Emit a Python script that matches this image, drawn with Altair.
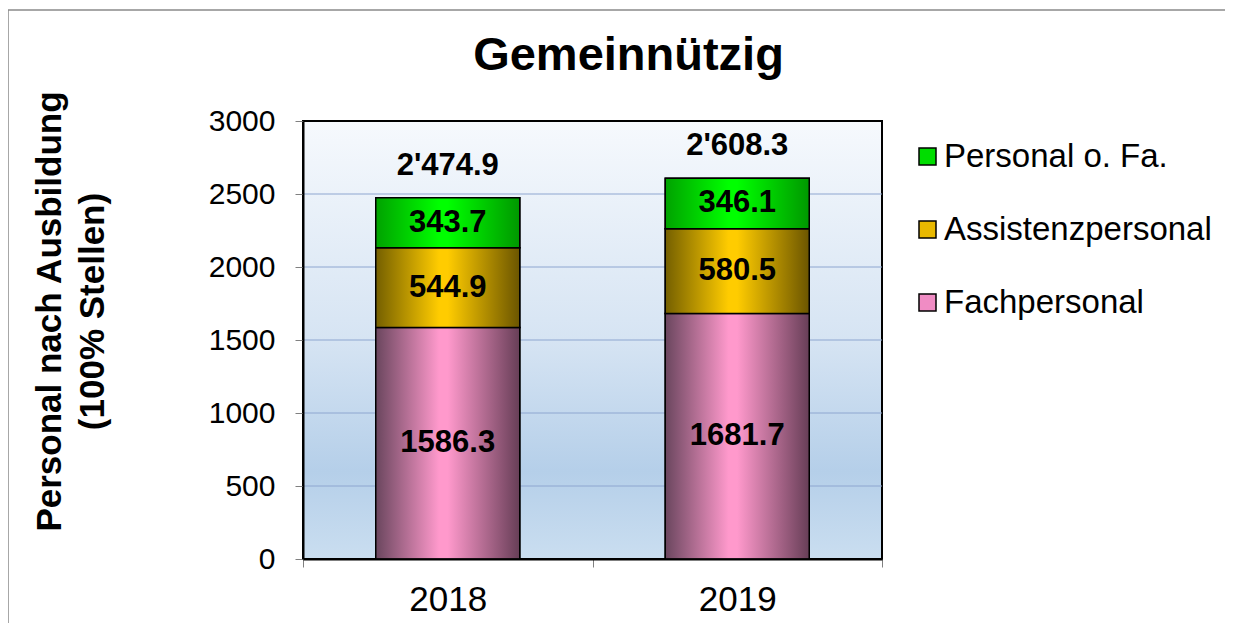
import altair as alt
import pandas as pd

# ---- data ----
years = ["2018", "2019"]
series = ["Fachpersonal", "Assistenzpersonal", "Personal o. Fa."]
fachpersonal = [1586.3, 1681.7]
assistenzpersonal = [544.9, 580.5]
personal_ohne = [343.7, 346.1]
y_ticks = [0, 500, 1000, 1500, 2000, 2500, 3000]
legend_order = ["Personal o. Fa.", "Assistenzpersonal", "Fachpersonal"]
legend_colors = ["#00dd00", "#e8b800", "#f08cc4"]

rows = []
for i, y in enumerate(years):
    for k, (s, vals) in enumerate(zip(series, [fachpersonal, assistenzpersonal, personal_ohne])):
        rows.append({"year": y, "series": s, "value": vals[i], "order": k})
df = pd.DataFrame(rows)
grid_df = pd.DataFrame({"tick": [t for t in y_ticks if 0 < t < max(y_ticks)]})

FONT = "Liberation Sans"


def hgrad(dark_l, bright, dark_r):
    return alt.LinearGradient(
        gradient="linear", x1=0, x2=1, y1=0, y2=0,
        stops=[alt.GradientStop(color=dark_l, offset=0),
               alt.GradientStop(color=bright, offset=0.44),
               alt.GradientStop(color=bright, offset=0.5),
               alt.GradientStop(color=dark_r, offset=1)])


grads = {
    "Fachpersonal": hgrad("#6a465e", "#ff99cc", "#673e57"),
    "Assistenzpersonal": hgrad("#745f00", "#ffcc00", "#6b5500"),
    "Personal o. Fa.": hgrad("#00a200", "#00ff00", "#009800"),
}

bg_grad = alt.LinearGradient(
    gradient="linear", x1=0, x2=0, y1=0, y2=1,
    stops=[alt.GradientStop(color="#f6f9fd", offset=0),
           alt.GradientStop(color="#d6e4f3", offset=0.5),
           alt.GradientStop(color="#b5cfe9", offset=0.8),
           alt.GradientStop(color="#cadef0", offset=1)])

x_axis = alt.Axis(title=None, labelAngle=0, labelFontSize=35, labelFont=FONT,
                  labelColor="black", tickBand="extent", tickSize=8,
                  tickColor="#808080", tickWidth=1, domainColor="black",
                  domainWidth=2, labelPadding=15, zindex=1, grid=False)
x_scale = alt.Scale(paddingInner=0, paddingOuter=0, domain=years)
y_axis = alt.Axis(title=["Personal nach Ausbildung", "(100% Stellen)"],
                  values=y_ticks, format="d", grid=False, tickSize=8,
                  tickColor="#808080", tickWidth=1, labelFontSize=30,
                  labelFont=FONT, labelColor="black", labelPadding=20,
                  domainColor="black", domainWidth=2, zindex=1,
                  titleFontSize=35, titleFont=FONT, titleFontWeight="bold",
                  titleColor="black", titleX=-254, titleY=190,
                  titleBaseline="middle", titleAlign="center",
                  titleAngle=270, titleLineHeight=43)
y_scale = alt.Scale(domain=[0, 3000], nice=False)

stacked = alt.Chart(df).transform_stack(
    stack="value", groupby=["year"], as_=["y0", "y1"],
    sort=[alt.SortField("order", order="ascending")])

one = alt.Data(values=[{}])

bg = alt.Chart(one).mark_rect(fill=bg_grad, stroke="black", strokeWidth=2).encode(
    x=alt.value(0), x2=alt.value("width"), y=alt.value(0), y2=alt.value("height"))

grid = alt.Chart(grid_df).mark_rule(color="#8ea6d0", strokeWidth=1).encode(
    y=alt.Y("tick:Q", scale=y_scale, axis=y_axis),
    x=alt.value(0), x2=alt.value("width"))

base_bars = stacked.mark_bar(width=144, stroke="black", strokeWidth=1.5).encode(
    x=alt.X("year:N", scale=x_scale, axis=x_axis),
    y=alt.Y("y0:Q", scale=y_scale, axis=y_axis),
    y2="y1:Q",
    color=alt.Color("series:N",
                    scale=alt.Scale(domain=legend_order, range=legend_colors),
                    legend=alt.Legend(title=None, orient="none", legendX=608,
                                      legendY=19, symbolType="square",
                                      symbolSize=289, symbolStrokeColor="black",
                                      symbolStrokeWidth=1.5, symbolOpacity=1,
                                      labelFontSize=33, labelFont=FONT,
                                      labelColor="black", labelOffset=0,
                                      rowPadding=39, padding=0,
                                      labelLimit=400)))

grad_layers = []
for s in series:
    grad_layers.append(
        stacked.transform_filter(alt.datum.series == s)
        .mark_bar(width=144, fill=grads[s], stroke="black", strokeWidth=1.5)
        .encode(x=alt.X("year:N", scale=x_scale, axis=x_axis),
                y=alt.Y("y0:Q", scale=y_scale, axis=y_axis),
                y2="y1:Q"))

seg_text = stacked.transform_calculate(mid="(datum.y0 + datum.y1) / 2").mark_text(
    fontSize=31, fontWeight="bold", font=FONT, color="black", baseline="middle"
).encode(
    x=alt.X("year:N", scale=x_scale, axis=x_axis),
    y=alt.Y("mid:Q", scale=y_scale, axis=y_axis),
    text=alt.Text("value:Q", format=".1f"))

tot_text = alt.Chart(df).transform_aggregate(
    total="sum(value)", groupby=["year"]
).transform_calculate(
    label="replace(format(datum.total, ',.1f'), ',', \"'\")"
).mark_text(fontSize=31, fontWeight="bold", font=FONT, color="black",
            baseline="middle", dy=-32).encode(
    x=alt.X("year:N", scale=x_scale, axis=x_axis),
    y=alt.Y("total:Q", scale=y_scale, axis=y_axis),
    text="label:N")

frame_top = alt.Chart(one).mark_rule(color="#8a8a8a", strokeWidth=1.5).encode(
    x=alt.value(-295), x2=alt.value(940), y=alt.value(-111))
frame_left = alt.Chart(one).mark_rule(color="#8a8a8a", strokeWidth=1.5).encode(
    x=alt.value(-295), y=alt.value(-111), y2=alt.value(520))

chart = alt.layer(bg, grid, base_bars, *grad_layers, seg_text, tot_text,
                  frame_top, frame_left).properties(
    width=579, height=438,
    title=alt.TitleParams("Gemeinnützig", fontSize=47, fontWeight="bold",
                          font=FONT, color="black", anchor="middle", dx=36,
                          baseline="bottom", offset=10, dy=128, frame="group"),
    autosize=alt.AutoSizeParams(type="none"),
    padding={"left": 295, "top": 113, "right": 343, "bottom": 64},
).configure_view(stroke=None).configure(background="white")

chart.save("out.html", embed_options={"renderer": "svg", "actions": False})
